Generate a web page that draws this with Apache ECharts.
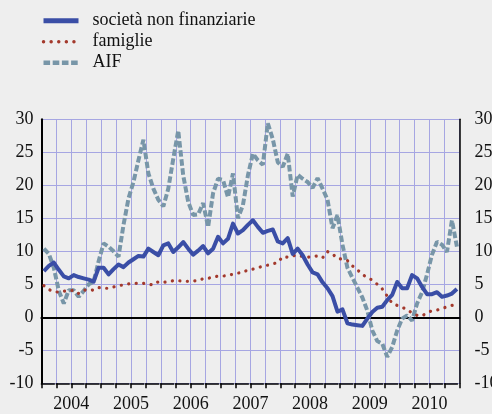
<!DOCTYPE html>
<html>
<head>
<meta charset="utf-8">
<script src="https://cdn.jsdelivr.net/npm/echarts@6/dist/echarts.min.js"></script>
<style>
html,body{margin:0;padding:0;background:#eeeeee;}
#c{width:492px;height:414px;}
</style>
</head>
<body>
<div id="c"></div>
<script>
var years = ['2004','2005','2006','2007','2008','2009','2010'];
var yTicks = [-10, 30, 5];
var seriesNames = ['società non finanziarie', 'famiglie', 'AIF'];

var societa = [7.0,7.8,8.3,7.2,6.2,5.9,6.4,6.1,5.9,5.7,5.4,7.5,
  7.5,6.5,7.3,8.0,7.6,8.3,8.8,9.3,9.2,10.4,9.9,9.4,
  10.9,11.2,9.9,10.6,11.4,10.4,9.5,10.1,10.8,9.7,10.4,12.2,
  11.2,11.9,14.2,12.7,13.2,14.0,14.7,13.7,12.8,13.1,13.3,11.5,
  11.2,12.0,9.6,10.4,9.4,8.0,6.8,6.5,5.3,4.4,3.2,0.85,
  1.2,-0.9,-1.1,-1.2,-1.3,-0.2,0.8,1.45,1.6,2.6,3.4,5.35,
  4.4,4.4,6.4,5.9,4.6,3.5,3.5,3.8,3.1,3.3,3.6,4.3];

var famiglie = [4.8,4.2,3.9,3.8,3.95,4.0,4.1,3.6,4.1,4.2,4.1,4.5,
  4.4,4.4,4.6,4.8,4.9,5.05,5.1,5.15,5.15,5.0,4.9,5.4,
  5.3,5.4,5.55,5.55,5.5,5.45,5.5,5.55,5.85,5.9,6.1,6.25,
  6.25,6.3,6.55,6.7,6.8,7.2,7.3,7.5,7.75,7.9,8.1,8.3,
  9.2,9.1,9.3,9.45,9.2,9.1,9.2,9.3,9.0,9.95,9.6,8.9,
  8.8,8.6,7.8,7.2,6.5,6.0,5.65,5.0,4.3,3.2,2.1,1.8,
  1.5,1.2,0.6,0.3,0.2,0.7,1.0,1.1,1.3,1.6,1.8,1.9];

var aif = [10.4,9.6,7.5,4.0,2.1,4.1,4.1,3.1,4.0,5.0,5.4,8.5,
  11.2,10.7,10.0,9.2,14.0,18.0,20.5,23.8,26.9,21.8,19.5,17.8,
  16.8,19.5,24.0,28.3,21.5,17.5,15.5,15.6,17.3,13.7,18.8,21.0,
  20.8,18.2,21.8,15.0,17.0,21.5,24.8,23.8,23.1,29.4,27.0,23.5,
  22.8,24.8,18.3,21.6,21.0,20.5,19.6,21.1,19.5,17.8,13.5,15.5,
  11.0,7.5,6.0,4.5,3.0,1.0,-2.0,-3.6,-4.0,-6.0,-4.5,-2.0,
  -0.2,0.3,-0.5,2.1,3.8,6.5,9.5,11.45,11.0,9.9,14.7,10.7];

var monthNames = ['01','02','03','04','05','06','07','08','09','10','11','12'];
var months = [];
years.forEach(function(y){ monthNames.forEach(function(m){ months.push(y + '-' + m); }); });

var FONT = 'Liberation Serif';
var gridColor = '#a6a6e2';
var labelStyle = {fontFamily: FONT, fontSize: 18, color: '#111'};
var colors = ['#3a4ea6', '#a3392c', '#7896a8'];

var chart = echarts.init(document.getElementById('c'), null, {renderer: 'canvas'});
chart.setOption({
  backgroundColor: '#eeeeee',
  animation: false,
  legend: {
    orient: 'vertical', left: 41, top: 11.7, padding: 0,
    itemWidth: 35, itemHeight: 10, itemGap: 3,
    itemStyle: {opacity: 0},
    textStyle: {fontFamily: FONT, fontSize: 18, lineHeight: 18, color: '#111', padding: [0,0,0,9]},
    data: [
      {name: seriesNames[0], lineStyle: {width: 5, color: colors[0]}},
      {name: seriesNames[1], lineStyle: {width: 3.4, color: colors[1], type: [0.1, 7.5], cap: 'round'}},
      {name: seriesNames[2], lineStyle: {width: 4.5, color: colors[2], type: [6.6, 2.6]}}
    ]
  },
  grid: {left: 41.4, top: 119.3, width: 418, height: 264, outerBoundsMode: 'none', containLabel: false},
  xAxis: [{
    type: 'category', data: months, boundaryGap: true,
    axisLine: {show: true, onZero: true, lineStyle: {color: '#000', width: 2}},
    axisTick: {show: false}, axisLabel: {show: false}, splitLine: {show: false}
  }, {
    type: 'value', min: 0, max: 28, interval: 1, position: 'bottom',
    axisLine: {show: true, onZero: false, lineStyle: {color: '#000', width: 1.5, type: [12.9, 2.03]}},
    axisTick: {show: true, length: 5, lineStyle: {color: '#000', width: 1.5}},
    splitLine: {show: true, lineStyle: {color: gridColor, width: 1}},
    axisLabel: Object.assign({margin: 12, formatter: function(v){ return (v % 4 === 2) ? years[(v - 2) / 4] : ''; }}, labelStyle)
  }],
  yAxis: [{
    type: 'value', min: yTicks[0], max: yTicks[1], interval: yTicks[2], position: 'left',
    axisLine: {show: true, lineStyle: {color: '#000', width: 2}},
    axisTick: {show: false},
    splitLine: {show: true, lineStyle: {color: gridColor, width: 1}},
    axisLabel: Object.assign({margin: 8}, labelStyle)
  }, {
    type: 'value', min: yTicks[0], max: yTicks[1], interval: yTicks[2], position: 'right',
    axisLine: {show: true, lineStyle: {color: '#000', width: 1.5}},
    axisTick: {show: false},
    splitLine: {show: false},
    axisLabel: Object.assign({margin: 15}, labelStyle)
  }],
  series: [{
    name: seriesNames[0], type: 'line', data: societa, xAxisIndex: 0, yAxisIndex: 0,
    showSymbol: false, symbol: 'none', z: 5,
    lineStyle: {color: colors[0], width: 4, join: 'round'},
    itemStyle: {color: colors[0]}
  }, {
    name: seriesNames[1], type: 'line', data: famiglie, xAxisIndex: 0, yAxisIndex: 0,
    showSymbol: false, symbol: 'none', z: 4,
    lineStyle: {color: colors[1], width: 3.2, type: [0.1, 7.4], cap: 'round'},
    itemStyle: {color: colors[1]}
  }, {
    name: seriesNames[2], type: 'line', data: aif, xAxisIndex: 0, yAxisIndex: 0,
    showSymbol: false, symbol: 'none', z: 3,
    lineStyle: {color: colors[2], width: 4, type: [6.5, 2.6]},
    itemStyle: {color: colors[2]}
  }]
});
</script>
</body>
</html>
